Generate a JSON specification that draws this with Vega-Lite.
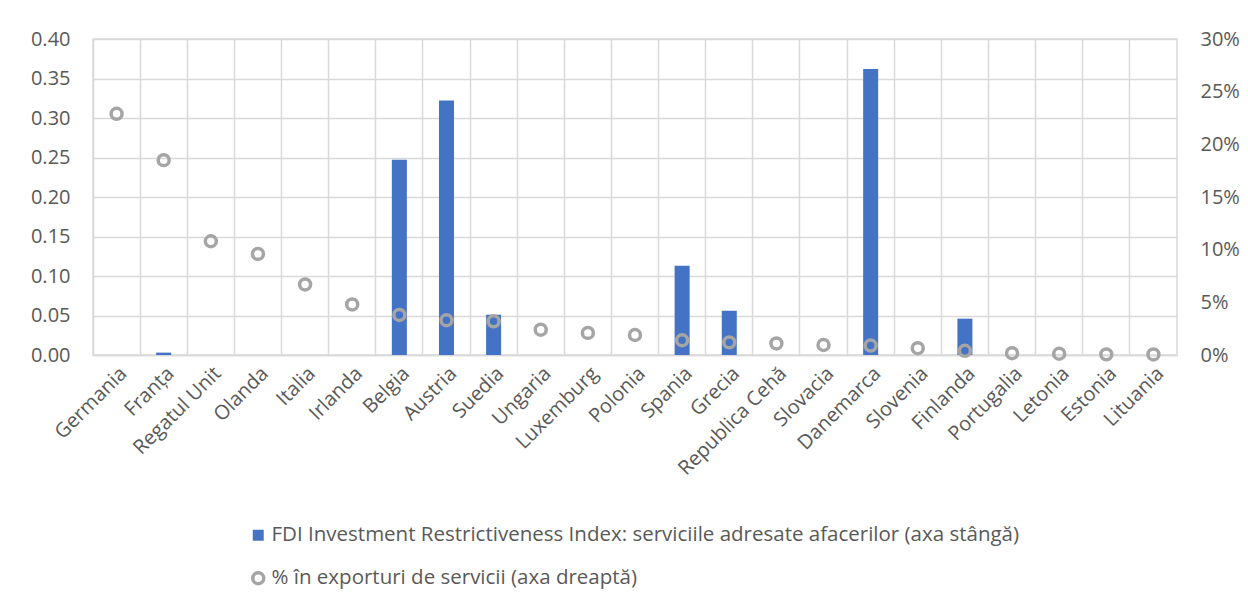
{
  "$schema": "https://vega.github.io/schema/vega-lite/v6.json",
  "width": 1084,
  "height": 316,
  "autosize": {"type": "none"},
  "padding": {"left": 93, "top": 39, "right": 71, "bottom": 254},
  "background": "white",
  "config": {
    "font": "Open Sans",
    "view": {"stroke": "#D9D9D9", "strokeWidth": 1.5},
    "axis": {
      "labelFont": "Open Sans",
      "labelFontSize": 20,
      "labelColor": "#595959",
      "gridColor": "#D9D9D9",
      "gridWidth": 1.5,
      "domain": false,
      "ticks": false
    }
  },
  "data": {
    "values": [
      {"country": "Germania", "fdi": 0, "pct": 0.229},
      {"country": "Franța", "fdi": 0.003, "pct": 0.185},
      {"country": "Regatul Unit", "fdi": 0, "pct": 0.108},
      {"country": "Olanda", "fdi": 0, "pct": 0.096},
      {"country": "Italia", "fdi": 0, "pct": 0.067},
      {"country": "Irlanda", "fdi": 0, "pct": 0.048},
      {"country": "Belgia", "fdi": 0.247, "pct": 0.038},
      {"country": "Austria", "fdi": 0.322, "pct": 0.033},
      {"country": "Suedia", "fdi": 0.051, "pct": 0.032},
      {"country": "Ungaria", "fdi": 0, "pct": 0.024},
      {"country": "Luxemburg", "fdi": 0, "pct": 0.021},
      {"country": "Polonia", "fdi": 0, "pct": 0.019},
      {"country": "Spania", "fdi": 0.113, "pct": 0.014},
      {"country": "Grecia", "fdi": 0.056, "pct": 0.012},
      {"country": "Republica Cehă", "fdi": 0, "pct": 0.011},
      {"country": "Slovacia", "fdi": 0, "pct": 0.0095},
      {"country": "Danemarca", "fdi": 0.362, "pct": 0.009},
      {"country": "Slovenia", "fdi": 0, "pct": 0.0065},
      {"country": "Finlanda", "fdi": 0.046, "pct": 0.004},
      {"country": "Portugalia", "fdi": 0, "pct": 0.0017},
      {"country": "Letonia", "fdi": 0, "pct": 0.0012},
      {"country": "Estonia", "fdi": 0, "pct": 0.0006},
      {"country": "Lituania", "fdi": 0, "pct": 0.0005}
    ]
  },
  "encoding": {
    "x": {
      "field": "country",
      "type": "nominal",
      "sort": null,
      "title": null,
      "scale": {"paddingInner": 0, "paddingOuter": 0},
      "axis": {
        "labelAngle": -45,
        "grid": true,
        "bandPosition": 0,
        "labelPadding": 8,
        "domain": true,
        "domainColor": "#D9D9D9",
        "domainWidth": 1.5
      }
    }
  },
  "layer": [
    {
      "mark": {"type": "bar", "size": 15},
      "encoding": {
        "y": {
          "field": "fdi",
          "type": "quantitative",
          "title": null,
          "scale": {"domain": [0, 0.4], "nice": false},
          "axis": {
            "format": ".2f",
            "values": [0, 0.05, 0.1, 0.15, 0.2, 0.25, 0.3, 0.35, 0.4],
            "grid": true,
            "labelPadding": 23
          }
        },
        "color": {
          "datum": "FDI Investment Restrictiveness Index: serviciile adresate afacerilor (axa stângă)",
          "scale": {"range": ["#4472C4"]},
          "legend": {
            "title": null,
            "orient": "none",
            "legendX": 155,
            "legendY": 486,
            "labelFont": "Open Sans",
            "labelFontSize": 20.5,
            "labelColor": "#595959",
            "labelOffset": 3,
            "symbolType": "square",
            "symbolSize": 120,
            "labelLimit": 1100
          }
        }
      }
    },
    {
      "mark": {"type": "point", "filled": false, "size": 120, "strokeWidth": 3.5, "opacity": 1},
      "encoding": {
        "y": {
          "field": "pct",
          "type": "quantitative",
          "title": null,
          "scale": {"domain": [0, 0.3], "nice": false},
          "axis": {
            "orient": "right",
            "format": ".0%",
            "values": [0, 0.05, 0.1, 0.15, 0.2, 0.25, 0.3],
            "grid": false,
            "labelPadding": 23
          }
        },
        "stroke": {
          "datum": "% în exporturi de servicii (axa dreaptă)",
          "scale": {"range": ["#A5A5A5"]},
          "legend": {
            "title": null,
            "orient": "none",
            "legendX": 155,
            "legendY": 529,
            "labelFont": "Open Sans",
            "labelFontSize": 20.5,
            "labelColor": "#595959",
            "labelOffset": 3,
            "symbolType": "circle",
            "symbolSize": 120,
            "symbolStrokeWidth": 3.5,
            "labelLimit": 1100
          }
        }
      }
    }
  ],
  "resolve": {"scale": {"y": "independent"}}
}
